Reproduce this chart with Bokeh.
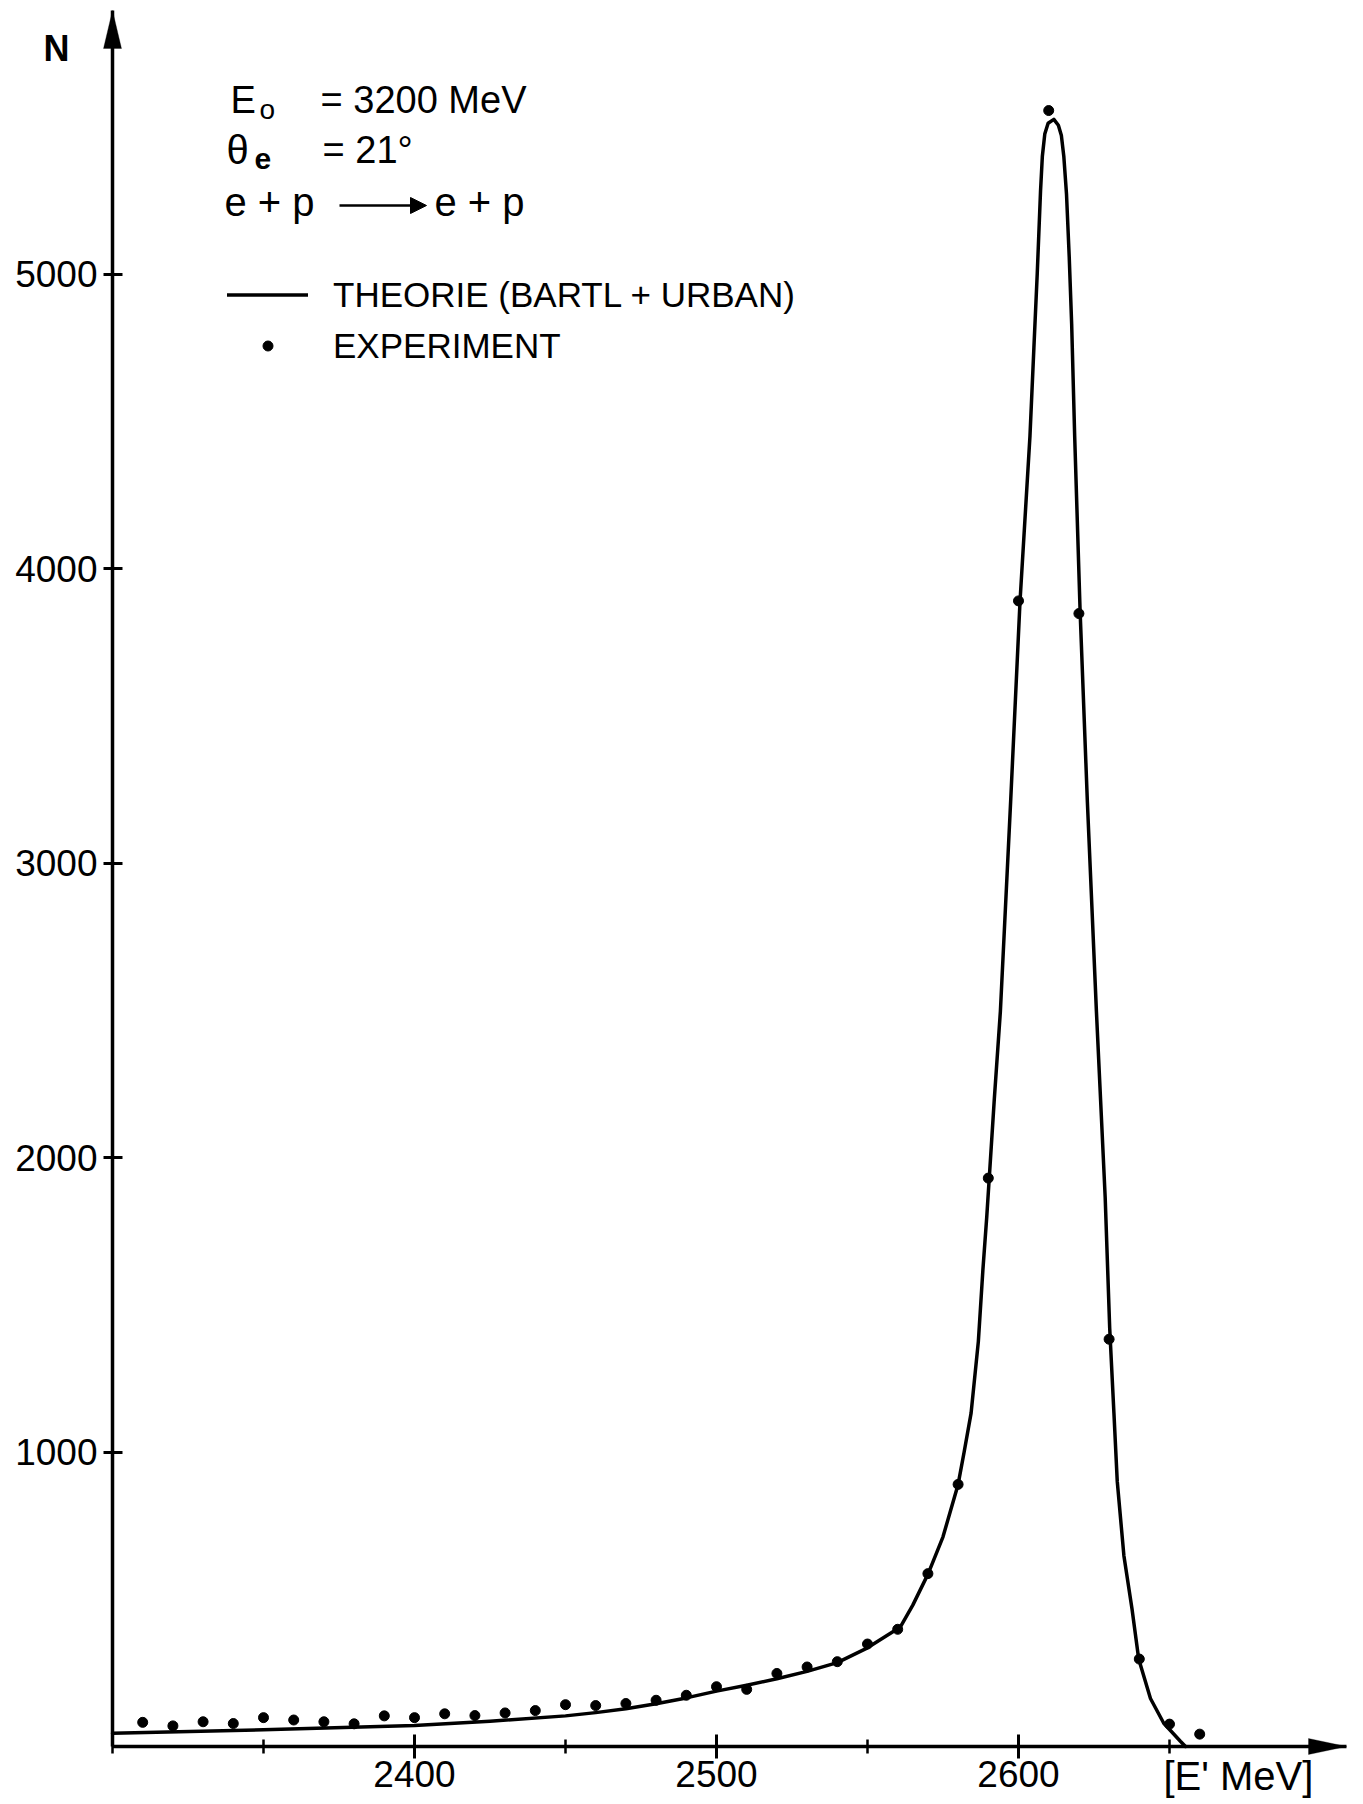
from bokeh.plotting import figure
from bokeh.models import (Range1d, FixedTicker, Label, Legend, LegendItem,
                          PolyAnnotation, Arrow, NormalHead)
from bokeh.embed import file_html
from bokeh.resources import INLINE

# ---------------- data ----------------
E_THEORY = [2300, 2350, 2400, 2425, 2450, 2460, 2470, 2480, 2490, 2500,
            2510, 2520, 2530, 2540, 2550, 2560.9, 2565, 2570.1, 2575, 2580,
            2582, 2584.3, 2586.7, 2588.2, 2589.5, 2590.5, 2592, 2594, 2597.4,
            2600.5, 2603.8, 2605.1, 2606.2, 2607.3, 2607.9, 2608.7, 2609.8,
            2611.7, 2613.2, 2614.2, 2615.0, 2615.9, 2616.8, 2617.6, 2618.6,
            2620.4, 2622.8, 2625.8, 2628.7, 2630.2, 2631.6, 2632.7, 2634.9,
            2637.6, 2639.8, 2643.7, 2648.1, 2653.6, 2655.3]
N_THEORY = [45, 57, 71, 86, 104, 115, 128, 145, 165, 188,
            208, 230, 255, 285, 335, 406, 480, 587, 712, 890,
            1000, 1132, 1375, 1617, 1800, 1960, 2200, 2496, 3209,
            3888, 4450, 4750, 5000, 5283, 5400, 5475, 5512,
            5525, 5505, 5470, 5400, 5270, 5057, 4831, 4450,
            3855, 3209, 2496, 1865, 1420, 1132, 900, 648,
            466, 297, 163, 79, 18, 0]

E_EXP = [2310, 2320, 2330, 2340, 2350, 2360, 2370, 2380, 2390, 2400,
         2410, 2420, 2430, 2440, 2450, 2460, 2470, 2480, 2490, 2500,
         2510, 2520, 2530, 2540, 2550, 2560, 2570, 2580, 2590, 2600,
         2610, 2620, 2630, 2640, 2650, 2660]
N_EXP = [82, 70, 84, 78, 98, 90, 84, 77, 104, 98,
         111, 105, 114, 122, 142, 139, 146, 157, 174, 203,
         194, 248, 270, 288, 348, 398, 587, 890, 1930, 3890,
         5555, 3847, 1383, 297, 76, 42]

X_MAJOR = [2400, 2500, 2600]
X_MINOR = [2300, 2350, 2450, 2550, 2650]
Y_TICKS = [1000, 2000, 3000, 4000, 5000]

LEGEND_LINE = "THEORIE (BARTL + URBAN)"
LEGEND_PTS = "EXPERIMENT"

# ---------------- geometry ----------------
W, H = 1363, 1804
FL, FB = 112, 1746            # pixel position of the origin (2300, 0)
TIP_X, TIP_Y = 1346, 10       # pixel position of the axis arrow tips
X0 = 2300
SX = 3.02                     # px per MeV
SY = 0.2945                   # px per count
FONT = "Liberation Sans"
LABEL_FIX = 14                # label baseline correction (px)


def dx(px):
    return X0 + (px - FL) / SX


def dy(py):
    return (FB - py) / SY


X_TIP, Y_TIP = dx(TIP_X), dy(TIP_Y)

p = figure(width=W, height=H,
           x_range=Range1d(dx(0), dx(W)), y_range=Range1d(dy(H), dy(0)),
           output_backend="svg", toolbar_location=None, min_border=0)
p.outline_line_color = None
p.grid.visible = False
p.background_fill_color = "white"
p.border_fill_color = "white"

# axes, drawn through the origin
p.xaxis.fixed_location = 0
p.yaxis.fixed_location = X0
p.xaxis.bounds = (X0, X_TIP)
p.yaxis.bounds = (0, Y_TIP)
p.xaxis.ticker = FixedTicker(ticks=X_MAJOR, minor_ticks=X_MINOR)
p.yaxis.ticker = FixedTicker(ticks=Y_TICKS, minor_ticks=[])
for ax in (p.xaxis[0], p.yaxis[0]):
    ax.axis_line_width = 3.5
    ax.axis_line_color = "black"
    ax.major_tick_line_width = 3
    ax.major_tick_line_color = "black"
    ax.minor_tick_line_width = 2.5
    ax.minor_tick_line_color = "black"
    ax.major_label_text_font = FONT
    ax.major_label_text_font_size = "37px"
    ax.major_label_text_color = "black"
p.xaxis.major_tick_in = 12
p.xaxis.major_tick_out = 12
p.xaxis.minor_tick_in = 7
p.xaxis.minor_tick_out = 7
p.xaxis.major_label_standoff = 2
p.yaxis.major_tick_in = 10
p.yaxis.major_tick_out = 9
p.yaxis.major_label_standoff = 6

# arrow heads of the axes
p.add_layout(PolyAnnotation(xs=[X0, X0 - 9 / SX, X0 + 9 / SX],
                            ys=[Y_TIP, Y_TIP - 38 / SY, Y_TIP - 38 / SY],
                            fill_color="black", fill_alpha=1.0,
                            line_color="black", line_width=1))
p.add_layout(PolyAnnotation(xs=[X_TIP, X_TIP - 38 / SX, X_TIP - 38 / SX],
                            ys=[0, 8 / SY, -8 / SY],
                            fill_color="black", fill_alpha=1.0,
                            line_color="black", line_width=1))

# data
r_line = p.line(E_THEORY, N_THEORY, line_width=3.5, line_color="black",
                line_join="round", line_cap="round")
r_pts = p.scatter(E_EXP, N_EXP, size=10, fill_color="black", line_color="black")

legend = Legend(items=[LegendItem(label=LEGEND_LINE, renderers=[r_line]),
                       LegendItem(label=LEGEND_PTS, renderers=[r_pts])],
                location=(227, 1433), glyph_width=81, glyph_height=25,
                label_height=51, spacing=0, padding=0, margin=0,
                label_standoff=25, label_text_font=FONT,
                label_text_font_size="35px", label_text_color="black",
                border_line_color=None, background_fill_alpha=0)
p.add_layout(legend)


def lab(px, py, text, size, style="normal"):
    p.add_layout(Label(x=dx(px), y=dy(py - LABEL_FIX), text=text, text_font=FONT,
                       text_font_size=size, text_color="black",
                       text_font_style=style,
                       text_align="left", text_baseline="alphabetic"))


# annotation block
lab(230, 113, "E", "38px")
lab(259, 123, "o", "28px")
lab(320, 113, "= 3200 MeV", "38px")
lab(226, 163, "θ", "40px")
lab(254, 172, "e", "30px", "bold")
lab(322, 163, "= 21°", "38px")
lab(224, 215, "e + p", "40px")
lab(434, 215, "e + p", "40px")
p.add_layout(Arrow(x_start=dx(339), y_start=dy(205), x_end=dx(426), y_end=dy(205),
                   line_width=2.5, line_color="black",
                   end=NormalHead(size=16, fill_color="black", line_color="black")))

# axis names
lab(43, 62, "N", "36px", "bold")
lab(1163, 1789, "[E' MeV]", "40px")

open("out.html", "w").write(file_html(p, INLINE))
